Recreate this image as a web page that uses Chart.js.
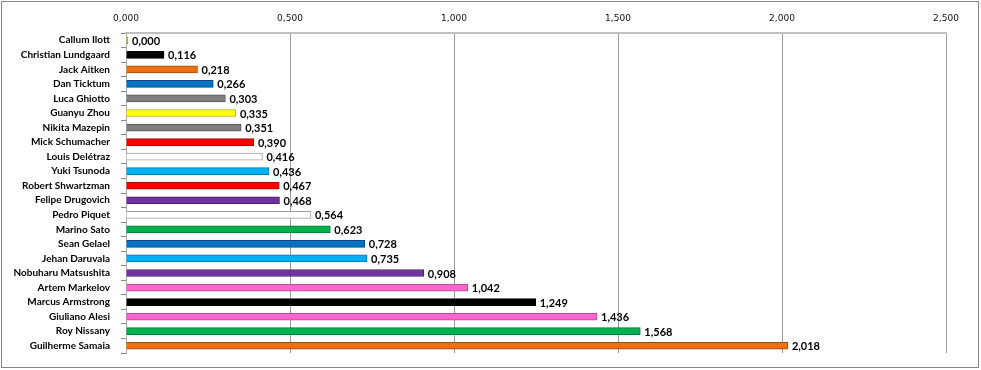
<!DOCTYPE html>
<html>
<head>
<meta charset="utf-8">
<script src="https://cdn.jsdelivr.net/npm/chart.js@4"></script>
<style>
  body { margin: 0; background: #fff; }
  #wrap { width: 981px; height: 370px; position: relative; }
</style>
</head>
<body>
<div id="wrap"><canvas id="gapChart" width="981" height="370"></canvas></div>
<script>
const drivers = [
  "Callum Ilott", "Christian Lundgaard", "Jack Aitken", "Dan Ticktum", "Luca Ghiotto",
  "Guanyu Zhou", "Nikita Mazepin", "Mick Schumacher", "Louis Delétraz", "Yuki Tsunoda",
  "Robert Shwartzman", "Felipe Drugovich", "Pedro Piquet", "Marino Sato", "Sean Gelael",
  "Jehan Daruvala", "Nobuharu Matsushita", "Artem Markelov", "Marcus Armstrong",
  "Giuliano Alesi", "Roy Nissany", "Guilherme Samaia"
];
const gaps = [
  0.000, 0.116, 0.218, 0.266, 0.303, 0.335, 0.351, 0.390, 0.416, 0.436, 0.467,
  0.468, 0.564, 0.623, 0.728, 0.735, 0.908, 1.042, 1.249, 1.436, 1.568, 2.018
];
const barColors = [
  "#c4d600", "#000000", "#f07010", "#0070c0", "#808080", "#ffff00", "#808080",
  "#ff0000", "#ffffff", "#00b0f0", "#ff0000", "#7030a0", "#ffffff", "#00b050",
  "#0070c0", "#00b0f0", "#7030a0", "#ff66cc", "#000000", "#ff66cc", "#00b050", "#f07010"
];
const edgeColors = [
  "#8a9600", "#000000", "#a04a08", "#004c85", "#555555", "#b5b500", "#555555",
  "#b00000", "#a0a0a0", "#0078a8", "#b00000", "#4a1f6b", "#a0a0a0", "#007a38",
  "#004c85", "#0078a8", "#4a1f6b", "#b0448d", "#000000", "#b0448d", "#007a38", "#a04a08"
];
const xTicks = [0, 0.5, 1, 1.5, 2, 2.5];

function fmt(v) {
  return v.toFixed(3).replace(".", ",");
}

// value labels at the end of each bar
const valueLabels = {
  id: "valueLabels",
  afterDatasetsDraw(chart) {
    const ctx = chart.ctx;
    const meta = chart.getDatasetMeta(0);
    ctx.save();
    ctx.font = "bold 11px Lato, 'Liberation Sans', sans-serif";
    ctx.fillStyle = "#000";
    ctx.textBaseline = "middle";
    meta.data.forEach((bar, i) => {
      ctx.fillText(fmt(gaps[i]), bar.x + 4, bar.y + 1);
    });
    ctx.restore();
  }
};

// outer frame
const frame = {
  id: "frame",
  afterDraw(chart) {
    const ctx = chart.ctx;
    ctx.save();
    ctx.strokeStyle = "#868686";
    ctx.lineWidth = 1;
    ctx.strokeRect(1.5, 1.5, 977, 366);
    ctx.restore();
  }
};

new Chart(document.getElementById("gapChart"), {
  type: "bar",
  data: {
    labels: drivers,
    datasets: [{
      data: gaps,
      backgroundColor: barColors,
      borderColor: edgeColors,
      borderWidth: 1,
      borderSkipped: "start",
      barThickness: 7,
      minBarLength: 2
    }]
  },
  options: {
    indexAxis: "y",
    responsive: false,
    animation: false,
    layout: { padding: { top: 0, right: 35, bottom: 16, left: 0 } },
    plugins: {
      legend: { display: false },
      tooltip: { enabled: false }
    },
    scales: {
      x: {
        position: "top",
        min: 0,
        max: 2.5,
        afterBuildTicks: (scale) => {
          scale.ticks = xTicks.map(v => ({ value: v }));
        },
        afterFit: (scale) => { scale.height = 33; },
        ticks: {
          callback: (v) => fmt(v),
          font: { family: "'DejaVu Sans', Verdana, sans-serif", size: 9 },
          color: "#111",
          padding: 9,
          maxRotation: 0
        },
        grid: { color: "#9a9a9a", drawTicks: false },
        border: { color: "#c0c0c0", width: 2 }
      },
      y: {
        afterFit: (scale) => { scale.width = 126; },
        ticks: {
          autoSkip: false,
          font: { family: "Lato, 'Liberation Sans', sans-serif", size: 10, weight: "bold" },
          color: "#000",
          padding: 11
        },
        grid: { offset: true, drawOnChartArea: false, tickLength: 5, color: "#888" },
        border: { color: "#aaa" }
      }
    }
  },
  plugins: [valueLabels, frame]
});
</script>
</body>
</html>
